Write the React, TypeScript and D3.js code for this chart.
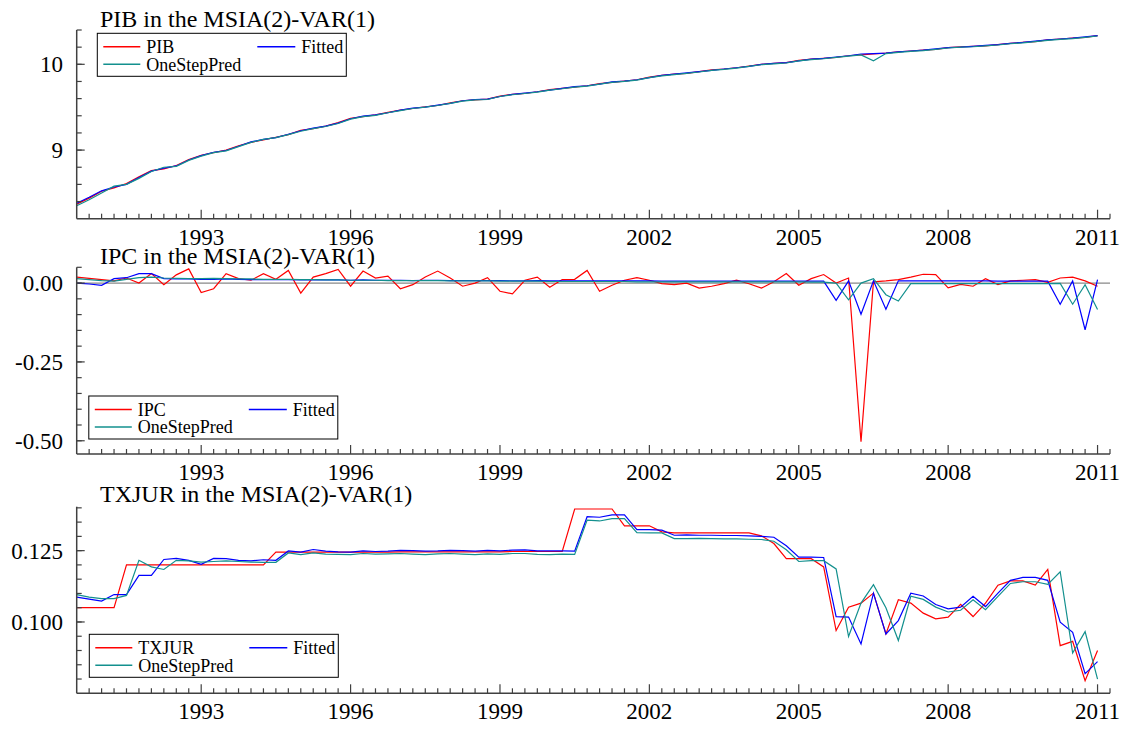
import React from "react";
import * as d3 from "d3";

// quarterly observations, 1990(3) .. 2011(1)
const START = 1990.5;
const N_OBS = 83;
const quarters = d3.range(N_OBS).map((i) => START + i / 4);

const yearTicks = [1993, 1996, 1999, 2002, 2005, 2008, 2011];

const pibActual = [
  8.37, 8.44, 8.52, 8.56, 8.61, 8.69, 8.76, 8.78, 8.82, 8.89,
  8.94, 8.97, 9.0, 9.05, 9.09, 9.12, 9.15, 9.18, 9.23, 9.25,
  9.28, 9.32, 9.37, 9.39, 9.41, 9.44, 9.465, 9.485, 9.505, 9.52,
  9.55, 9.575, 9.585, 9.595, 9.63, 9.65, 9.66, 9.68, 9.705, 9.72,
  9.735, 9.75, 9.775, 9.79, 9.805, 9.82, 9.85, 9.87, 9.885, 9.895,
  9.915, 9.935, 9.945, 9.96, 9.98, 10.0, 10.01, 10.02, 10.045, 10.06,
  10.07, 10.08, 10.1, 10.11, 10.12, 10.13, 10.145, 10.155, 10.165, 10.175,
  10.195, 10.205, 10.21, 10.215, 10.23, 10.245, 10.255, 10.265, 10.285, 10.295,
  10.305, 10.315, 10.335,
];
const pibFitted = [
  8.38, 8.45, 8.525, 8.57, 8.6, 8.68, 8.755, 8.79, 8.815, 8.885,
  8.935, 8.975, 8.995, 9.045, 9.095, 9.125, 9.145, 9.185, 9.225, 9.255,
  9.28, 9.315, 9.365, 9.395, 9.41, 9.435, 9.465, 9.49, 9.5, 9.525,
  9.545, 9.575, 9.59, 9.595, 9.625, 9.65, 9.665, 9.68, 9.7, 9.72,
  9.74, 9.75, 9.77, 9.795, 9.805, 9.82, 9.845, 9.87, 9.885, 9.9,
  9.915, 9.93, 9.945, 9.96, 9.975, 10.0, 10.01, 10.02, 10.04, 10.06,
  10.07, 10.085, 10.1, 10.12, 10.125, 10.13, 10.145, 10.155, 10.165, 10.18,
  10.195, 10.2, 10.21, 10.22, 10.23, 10.245, 10.255, 10.27, 10.285, 10.295,
  10.305, 10.32, 10.335,
];
const pibPred = [
  8.35, 8.42, 8.5, 8.58, 8.6, 8.67, 8.75, 8.8, 8.81, 8.88,
  8.93, 8.97, 8.99, 9.04, 9.09, 9.125, 9.145, 9.18, 9.22, 9.25,
  9.275, 9.31, 9.36, 9.39, 9.405, 9.435, 9.46, 9.485, 9.5, 9.52,
  9.545, 9.57, 9.585, 9.59, 9.625, 9.645, 9.66, 9.675, 9.7, 9.715,
  9.735, 9.745, 9.77, 9.79, 9.8, 9.815, 9.845, 9.865, 9.88, 9.895,
  9.91, 9.93, 9.94, 9.955, 9.975, 9.995, 10.005, 10.015, 10.04, 10.055,
  10.065, 10.08, 10.095, 10.11, 10.04, 10.125, 10.14, 10.15, 10.16, 10.175,
  10.19, 10.2, 10.205, 10.215, 10.225, 10.24, 10.25, 10.265, 10.28, 10.29,
  10.3, 10.315, 10.33,
];

const ipcActual = [
  0.019, 0.015, 0.011, 0.007, 0.016, 0.0, 0.03, -0.005, 0.026, 0.045,
  -0.03, -0.018, 0.03, 0.014, 0.009, 0.03, 0.012, 0.04, -0.032, 0.019,
  0.03, 0.043, -0.01, 0.038, 0.016, 0.022, -0.018, -0.005, 0.019, 0.038,
  0.016, -0.01, 0.0, 0.017, -0.026, -0.034, 0.009, 0.019, -0.013, 0.011,
  0.012, 0.04, -0.026, -0.007, 0.009, 0.017, 0.009, -0.002, -0.005, 0.0,
  -0.016, -0.01, -0.002, 0.009, -0.002, -0.016, 0.004, 0.03, -0.007, 0.014,
  0.027, 0.0, 0.016, -0.503, 0.004, 0.007, 0.011, 0.019, 0.028, 0.027,
  -0.015, -0.004, -0.01, 0.014, -0.005, 0.007, 0.009, 0.011, 0.002, 0.016,
  0.019, 0.007, -0.01,
];
const ipcFitted = [
  0.0, -0.003, -0.007, 0.014, 0.017, 0.03, 0.03, 0.014, 0.013, 0.013,
  0.012, 0.012, 0.013, 0.012, 0.011, 0.011, 0.011, 0.011, 0.01, 0.011,
  0.01, 0.01, 0.009, 0.01, 0.009, 0.009, 0.009, 0.008, 0.009, 0.009,
  0.008, 0.008, 0.008, 0.008, 0.008, 0.007, 0.007, 0.008, 0.007, 0.007,
  0.007, 0.007, 0.007, 0.007, 0.007, 0.007, 0.007, 0.006, 0.006, 0.006,
  0.006, 0.006, 0.006, 0.006, 0.006, 0.006, 0.006, 0.006, 0.006, 0.006,
  0.006, -0.055, 0.007, -0.099, 0.007, -0.083, 0.007, 0.007, 0.007, 0.007,
  0.007, 0.007, 0.007, 0.007, 0.006, 0.006, 0.006, 0.006, 0.006, -0.067,
  0.007, -0.148, 0.011,
];
const ipcPred = [
  0.014, 0.011, 0.008, 0.006, 0.012, 0.017, 0.019, 0.016, 0.015, 0.014,
  0.014, 0.015, 0.014, 0.013, 0.013, 0.012, 0.012, 0.012, 0.011, 0.011,
  0.01, 0.01, 0.009, 0.009, 0.009, 0.008, 0.008, 0.008, 0.008, 0.008,
  0.007, 0.007, 0.007, 0.007, 0.006, 0.006, 0.006, 0.006, 0.005, 0.005,
  0.005, 0.005, 0.005, 0.005, 0.005, 0.004, 0.004, 0.004, 0.004, 0.004,
  0.004, 0.004, 0.004, 0.004, 0.004, 0.004, 0.004, 0.004, 0.004, 0.003,
  0.003, 0.0, -0.053, 0.0, 0.014, -0.037, -0.057, -0.002, -0.002, -0.002,
  -0.002, -0.002, -0.002, -0.002, -0.002, -0.002, -0.002, -0.002, -0.002, -0.001,
  -0.067, -0.005, -0.084,
];

const txjurActual = [
  0.105, 0.105, 0.105, 0.105, 0.12, 0.12, 0.12, 0.12, 0.12, 0.12,
  0.12, 0.12, 0.12, 0.12, 0.12, 0.12, 0.1245, 0.1245, 0.1245, 0.1245,
  0.1245, 0.1245, 0.1245, 0.1245, 0.1245, 0.1245, 0.1246, 0.1246, 0.1246, 0.1246,
  0.1246, 0.1246, 0.1246, 0.1246, 0.1246, 0.1247, 0.1247, 0.1247, 0.1247, 0.1247,
  0.1396, 0.1396, 0.1396, 0.1396, 0.1337, 0.1337, 0.1337, 0.1316, 0.1312, 0.1312,
  0.1312, 0.1312, 0.1312, 0.1312, 0.1312, 0.1302, 0.1275, 0.1222, 0.1222, 0.1222,
  0.1193, 0.097, 0.1052, 0.1066, 0.1101, 0.0958, 0.1078, 0.1066, 0.1031, 0.1011,
  0.1017, 0.1062, 0.1019, 0.1066, 0.1129, 0.1144, 0.1144, 0.1129, 0.1184, 0.0917,
  0.0932, 0.0794, 0.09,
];
const txjurFitted = [
  0.1087, 0.108, 0.1073, 0.1096, 0.1096, 0.1163, 0.1163, 0.1219, 0.1223, 0.1216,
  0.1202, 0.1223, 0.1222, 0.1216, 0.1214, 0.1218, 0.1216, 0.1249, 0.1245, 0.1254,
  0.1248, 0.1246, 0.1245, 0.1249, 0.1247, 0.1248, 0.1251, 0.125, 0.1248, 0.1249,
  0.1251, 0.125, 0.1248, 0.1251, 0.1249, 0.1252, 0.1253, 0.1249, 0.1249, 0.1249,
  0.1248, 0.1369, 0.1367, 0.1375, 0.1375, 0.1324, 0.1324, 0.1322, 0.1304, 0.1305,
  0.1304, 0.1304, 0.1303, 0.1303, 0.1302, 0.13, 0.1297, 0.1267, 0.1227, 0.1227,
  0.1226, 0.1019, 0.1017, 0.0923, 0.1101, 0.0958, 0.1005, 0.1101, 0.1091, 0.1061,
  0.1046, 0.1052, 0.109, 0.1054, 0.1101, 0.1146, 0.1156, 0.1156, 0.1146, 0.0999,
  0.0964, 0.0819, 0.0861,
];
const txjurPred = [
  0.1096, 0.1087, 0.1082, 0.1082, 0.1093, 0.1216, 0.1193, 0.1184, 0.1216, 0.1214,
  0.121, 0.1212, 0.1214, 0.1212, 0.121, 0.1209, 0.1209, 0.1242, 0.1236, 0.1242,
  0.1238, 0.1237, 0.1236, 0.124, 0.1238, 0.1239, 0.124, 0.1238, 0.1236, 0.1239,
  0.124, 0.1238, 0.1236, 0.1239, 0.1237, 0.124, 0.124, 0.1237, 0.1236, 0.1238,
  0.1237, 0.1357, 0.1354, 0.1362, 0.1362, 0.1313, 0.1312, 0.1312, 0.1292, 0.1292,
  0.1293, 0.1292, 0.1291, 0.1291, 0.129, 0.1289, 0.1283, 0.1253, 0.1212, 0.1215,
  0.1215, 0.1186, 0.0949, 0.1066, 0.1131, 0.105, 0.0935, 0.109, 0.1079, 0.1052,
  0.1035, 0.1041, 0.1078, 0.1043, 0.109, 0.1135, 0.1141, 0.1141, 0.1132, 0.1176,
  0.0891, 0.0966, 0.08,
];

const RED = "#ff0000";
const BLUE = "#0000ff";
const TEAL = "#13908e";
const AXIS = "#404040";
const FONT = "'Liberation Serif', serif";

const x = d3.scaleLinear().domain([1990.5, 2011.25]).range([76.7, 1110]);
const quarterTicks = d3.range(1990.75, 2011.26, 0.25);

type PanelProps = {
  title: string;
  titleY: number;
  domain: [number, number];
  range: [number, number];
  labelTicks: number[];
  labelFmt: (v: number) => string;
  minorTicks: number[];
  zeroLine?: boolean;
  actual: number[];
  fitted: number[];
  pred: number[];
  name: string;
  legend: { x: number; y: number };
};

const Panel = (p: PanelProps) => {
  const y = d3.scaleLinear().domain(p.domain).range(p.range);
  const [bottom, top] = p.range;
  const left = x.range()[0];
  const line = d3
    .line<number>()
    .x((_, i) => x(quarters[i]))
    .y((d) => y(d));
  const lg = p.legend;
  const txt = { fontFamily: FONT };
  return (
    <g>
      <text x={100} y={p.titleY} fontSize={24} style={txt}>
        {p.title}
      </text>
      {p.zeroLine && (
        <line x1={left} x2={x.range()[1]} y1={y(0)} y2={y(0)} stroke="#888" strokeWidth={1.2} />
      )}
      {/* series */}
      <path d={line(p.actual) || ""} fill="none" stroke={RED} strokeWidth={1.2} />
      <path d={line(p.fitted) || ""} fill="none" stroke={BLUE} strokeWidth={1.2} />
      <path d={line(p.pred) || ""} fill="none" stroke={TEAL} strokeWidth={1.2} />
      {/* x axis */}
      <line x1={left} x2={x.range()[1]} y1={bottom} y2={bottom} stroke={AXIS} strokeWidth={1.5} />
      {quarterTicks.map((t) => {
        const major = yearTicks.includes(t);
        return (
          <line key={t} x1={x(t)} x2={x(t)} y1={bottom} y2={bottom - (major ? 9 : 5)} stroke={AXIS} strokeWidth={1.2} />
        );
      })}
      {yearTicks.map((t) => (
        <text key={t} x={x(t)} y={bottom + 26} textAnchor="middle" fontSize={23} style={txt}>
          {String(t)}
        </text>
      ))}
      {/* y axis */}
      <line x1={left} x2={left} y1={bottom} y2={top} stroke={AXIS} strokeWidth={1.5} />
      {p.minorTicks.map((t) => (
        <line key={t} x1={left} x2={left + 5} y1={y(t)} y2={y(t)} stroke={AXIS} strokeWidth={1.2} />
      ))}
      {p.labelTicks.map((t) => (
        <g key={t}>
          <line x1={left} x2={left + 8} y1={y(t)} y2={y(t)} stroke={AXIS} strokeWidth={1.2} />
          <text x={63} y={y(t)} dy="0.35em" textAnchor="end" fontSize={23} style={txt}>
            {p.labelFmt(t)}
          </text>
        </g>
      ))}
      {/* legend */}
      <g transform={`translate(${lg.x},${lg.y})`} fontSize={18} style={txt}>
        <rect x={0} y={0} width={249} height={43} fill="#fff" stroke="#000" strokeWidth={1} />
        <line x1={6} x2={43} y1={13.5} y2={13.5} stroke={RED} strokeWidth={1.5} />
        <text x={49} y={13.5} dy="0.35em">{p.name}</text>
        <line x1={160} x2={198} y1={13.5} y2={13.5} stroke={BLUE} strokeWidth={1.5} />
        <text x={204} y={13.5} dy="0.35em">Fitted</text>
        <line x1={6} x2={43} y1={31} y2={31} stroke={TEAL} strokeWidth={1.5} />
        <text x={49} y={31} dy="0.35em">OneStepPred</text>
      </g>
    </g>
  );
};

export default function App() {
  return (
    <svg
      width={1130}
      height={729}
      fill="#000"
      style={{ position: "absolute", left: 0, top: 0, background: "#fff", fontFamily: FONT }}
    >
      <Panel
        title="PIB in the MSIA(2)-VAR(1)"
        titleY={27}
        domain={[8.2, 10.4]}
        range={[218.7, 30]}
        labelTicks={[9, 10]}
        labelFmt={(v) => d3.format("d")(v)}
        minorTicks={d3.range(8.4, 10.41, 0.2)}
        actual={pibActual}
        fitted={pibFitted}
        pred={pibPred}
        name="PIB"
        legend={{ x: 97.3, y: 33.3 }}
      />
      <Panel
        title="IPC in the MSIA(2)-VAR(1)"
        titleY={263.5}
        domain={[-0.542, 0.05]}
        range={[454, 267.3]}
        labelTicks={[0, -0.25, -0.5]}
        labelFmt={(v) => d3.format(".2f")(v).replace("\u2212", "-")}
        minorTicks={d3.range(-0.5, 0.051, 0.05)}
        zeroLine
        actual={ipcActual}
        fitted={ipcFitted}
        pred={ipcPred}
        name="IPC"
        legend={{ x: 88.8, y: 396 }}
      />
      <Panel
        title="TXJUR in the MSIA(2)-VAR(1)"
        titleY={501.5}
        domain={[0.075, 0.1404]}
        range={[693.3, 506.7]}
        labelTicks={[0.1, 0.125]}
        labelFmt={(v) => d3.format(".3f")(v)}
        minorTicks={d3.range(0.08, 0.1401, 0.005)}
        actual={txjurActual}
        fitted={txjurFitted}
        pred={txjurPred}
        name="TXJUR"
        legend={{ x: 89.3, y: 634.3 }}
      />
    </svg>
  );
}
